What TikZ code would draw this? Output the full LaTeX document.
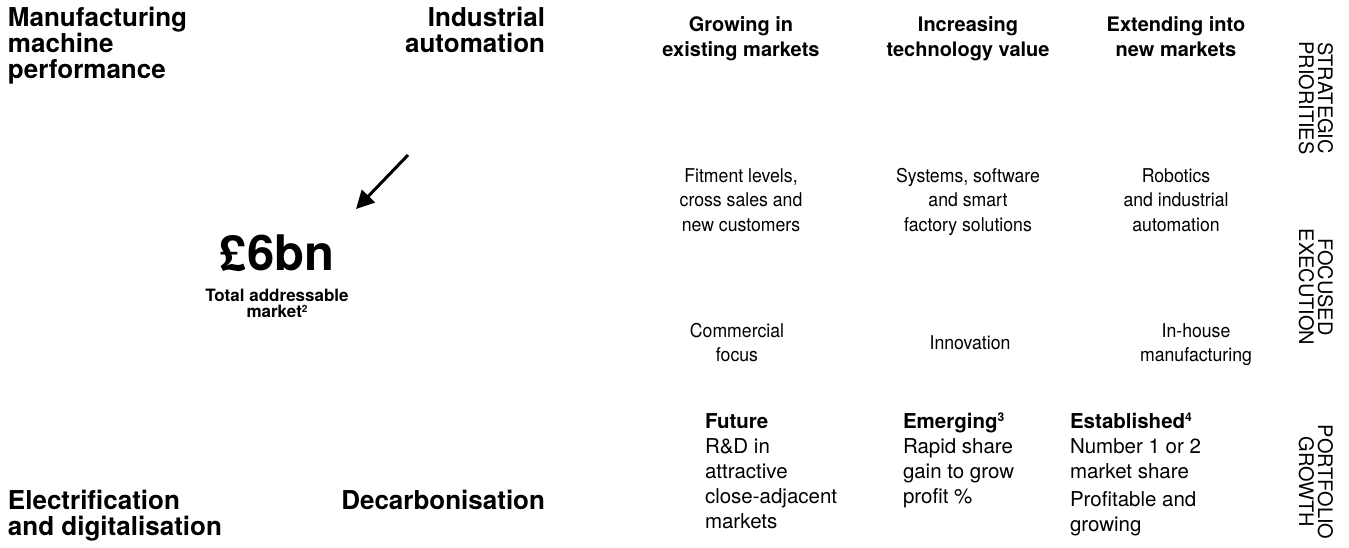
\documentclass[tikz,border=0pt]{standalone}
\usepackage{fontspec}
\setmainfont{TeX Gyre Heros}
\newfontfamily\narrowfont[FakeStretch=0.93]{TeX Gyre Heros}
\usetikzlibrary{arrows.meta}
\newcommand\supmark[2]{\raisebox{#1}{\fontsize{#2}{#2}\selectfont}}
\newcommand\smallsup[3]{\raisebox{#1}{\fontsize{#2}{#2}\selectfont #3}}
\begin{document}
\begin{tikzpicture}[x=1pt,y=-1pt,
  every node/.style={inner sep=0pt,outer sep=0pt},
  theme/.style={font=\bfseries\fontsize{26}{26}\selectfont},
  head/.style={font=\bfseries\fontsize{20}{25}\selectfont,align=center,anchor=base},
  body/.style={font=\narrowfont\fontsize{19}{24}\selectfont,align=center,anchor=base},
  port/.style={font=\fontsize{20.5}{25}\selectfont,align=left,anchor=base west},
  side/.style={font=\fontsize{20}{19}\selectfont,align=center,rotate=-90},
  pointer/.style={line width=3pt,-{Triangle[length=18pt,width=18pt]}}]
\useasboundingbox (0,0) rectangle (1349,548);
% left block (base anchor = last line baseline)
\node[theme,align=left,anchor=base west] (mmp) at (8,79) {Manufacturing\\machine\\performance};
\node[theme,align=right,anchor=base east] (ia) at (545,53) {Industrial\\automation};
\node[theme,align=left,anchor=base west] (ed) at (8,535) {Electrification\\and digitalisation};
\node[theme,align=right,anchor=base east] (dec) at (545,509) {Decarbonisation};
\node[font=\bfseries\fontsize{49}{49}\selectfont,anchor=base] (tam) at (277,270) {£6bn};
\node[font=\bfseries\fontsize{17}{16}\selectfont,align=center,anchor=base] (taml) at (277,317) {Total addressable\\market\smallsup{5pt}{10}{2}};
\coordinate (a0) at (408,155);
\coordinate (a1) at (356,209);
\draw[pointer] (a0) -- (a1);
% strategic priorities
\node[head] (h1) at (741,57) {Growing in\\existing markets};
\node[head] (h2) at (968,57) {Increasing\\technology value};
\node[head] (h3) at (1176,57) {Extending into\\new markets};
\node[body] (b1) at (741,231) {Fitment levels,\\cross sales and\\new customers};
\node[body] (b2) at (968,231) {Systems, software\\and smart\\factory solutions};
\node[body] (b3) at (1176,231) {Robotics\\and industrial\\automation};
% focused execution
\node[body] (m1) at (737,361) {Commercial\\focus};
\node[body] (m2) at (970,349) {Innovation};
\node[body] (m3) at (1196,361) {In-house\\manufacturing};
% portfolio growth
\node[port] (f1) at (705,528) {\textbf{Future}\\R\&D in\\attractive\\close-adjacent\\markets};
\node[port] (f2) at (903,503) {\textbf{Emerging\smallsup{7pt}{12}{3}}\\Rapid share\\gain to grow\\profit \%};
\node[port] (f3) at (1070,531) {\textbf{Established\smallsup{7pt}{12}{4}}\\Number 1 or 2\\market share\\[3pt]Profitable and\\growing};
% side labels
\node[side] (s1) at (1316,98) {STRATEGIC\\PRIORITIES};
\node[side] (s2) at (1316,287) {FOCUSED\\EXECUTION};
\node[side] (s3) at (1316,482) {PORTFOLIO\\GROWTH};
\end{tikzpicture}
\end{document}
